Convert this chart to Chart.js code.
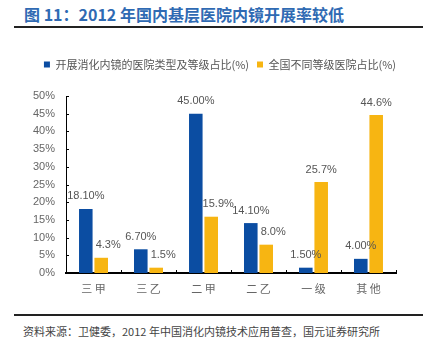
<!DOCTYPE html>
<html><head><meta charset="utf-8">
<script src="https://cdn.jsdelivr.net/npm/chart.js@4.4.1/dist/chart.umd.min.js"></script>
<style>
html,body{margin:0;padding:0;background:#fff;}
#wrap{position:relative;width:423px;height:346px;overflow:hidden;}
#title{position:absolute;left:24px;top:4px;font-family:"Noto Sans CJK SC",sans-serif;font-weight:bold;font-size:16px;color:#2F6AB3;white-space:nowrap;line-height:20px;}
#rule1{position:absolute;left:14px;top:26px;width:409px;height:2px;background:#222;}
#rule2{position:absolute;left:14px;top:314px;width:409px;height:2px;background:#222;}
#src{position:absolute;left:23px;top:323px;font-family:"Noto Sans CJK SC",sans-serif;font-size:11px;color:#444;white-space:nowrap;line-height:16px;}
#cw{position:absolute;left:0;top:40px;width:423px;height:265px;}
</style></head>
<body><div id="wrap">
<div id="title">图 11：2012 年国内基层医院内镜开展率较低</div>
<div id="rule1"></div>
<div id="cw"><canvas id="c"></canvas></div>
<div id="rule2"></div>
<div id="src">资料来源：卫健委，2012 年中国消化内镜技术应用普查，国元证券研究所</div>
</div>
<script>
const categories = ["三 甲", "三 乙", "二 甲", "二 乙", "一 级", "其 他"];
const seriesNames = ["开展消化内镜的医院类型及等级占比(%)", "全国不同等级医院占比(%)"];
const endoscopyShare = [18.1, 6.7, 45.0, 14.1, 1.5, 4.0];
const hospitalShare = [4.3, 1.5, 15.9, 8.0, 25.7, 44.6];
const yTicks = [0, 5, 10, 15, 20, 25, 30, 35, 40, 45, 50];

const legendAdjust = {
  id: 'legendAdjust',
  beforeInit(chart) {
    const lg = chart.legend;
    if (lg) {
      const origFit = lg.fit;
      lg.fit = function () { origFit.call(this); this.height += 16; };
      const origDraw = lg.draw;
      lg.draw = function () {
        const ctx = chart.ctx;
        ctx.save(); ctx.translate(17, 0);
        origDraw.call(this);
        ctx.restore();
      };
    }
  }
};

const labelPlugin = {
  id: 'valueLabels',
  afterDatasetsDraw(chart) {
    const ctx = chart.ctx;
    ctx.save();
    ctx.font = '11px "Liberation Sans", Arial, sans-serif';
    ctx.fillStyle = '#555';
    ctx.textAlign = 'center';
    ctx.textBaseline = 'bottom';
    chart.data.datasets.forEach((ds, di) => {
      const meta = chart.getDatasetMeta(di);
      meta.data.forEach((bar, i) => {
        const v = ds.data[i];
        const txt = (di === 0 ? v.toFixed(2) : v.toFixed(1)) + '%';
        const dx = (di === 1 && v < 20) ? 7 : 0;
        ctx.fillText(txt, bar.x + dx, bar.y - 7);
      });
    });
    const x = chart.scales.x, y = chart.scales.y;
    ctx.strokeStyle = '#000';
    ctx.lineWidth = 1;
    ctx.beginPath();
    const n = categories.length;
    for (let i = 1; i <= n; i++) {
      const px = Math.round(x.left + i * (x.right - x.left) / n) + 0.5;
      ctx.moveTo(px, y.bottom); ctx.lineTo(px, y.bottom - 3);
    }
    yTicks.forEach(t => {
      const py = Math.round(y.getPixelForValue(t)) + 0.5;
      ctx.moveTo(x.left, py); ctx.lineTo(x.left + 3, py);
    });
    ctx.stroke();
    ctx.restore();
  }
};

new Chart(document.getElementById('c'), {
  type: 'bar',
  data: {
    labels: categories,
    datasets: [
      { label: seriesNames[0], data: endoscopyShare, backgroundColor: '#0B4DA2', categoryPercentage: 0.56, barPercentage: 0.88 },
      { label: seriesNames[1], data: hospitalShare, backgroundColor: '#F7B512', categoryPercentage: 0.56, barPercentage: 0.88 }
    ]
  },
  options: {
    responsive: true,
    maintainAspectRatio: false,
    animation: false,
    layout: { padding: { left: 10, right: 27, top: 11, bottom: 2 } },
    plugins: {
      legend: {
        display: true,
        position: 'top',
        labels: {
          boxWidth: 6, boxHeight: 6, padding: 8,
          color: '#555',
          font: { size: 11, family: '"Noto Sans CJK SC", sans-serif' }
        }
      },
      tooltip: { enabled: false }
    },
    scales: {
      x: {
        grid: { display: false, drawTicks: false },
        border: { display: true, color: '#000', width: 2 },
        ticks: { color: '#666', padding: 9, font: { size: 11, family: '"Noto Sans CJK SC", sans-serif' } },
        afterFit(s) { s.height = 30; }
      },
      y: {
        min: 0, max: 50,
        grid: { display: false, drawTicks: false },
        border: { display: true, color: '#000', width: 1 },
        afterBuildTicks(s) { s.ticks = yTicks.map(v => ({ value: v })); },
        ticks: { color: '#666', padding: 11, autoSkip: false, font: { size: 11, family: '"Liberation Sans", Arial, sans-serif' }, callback: v => v + '%' },
        afterFit(s) { s.width = 56; }
      }
    }
  },
  plugins: [legendAdjust, labelPlugin]
});
</script>
</body></html>
